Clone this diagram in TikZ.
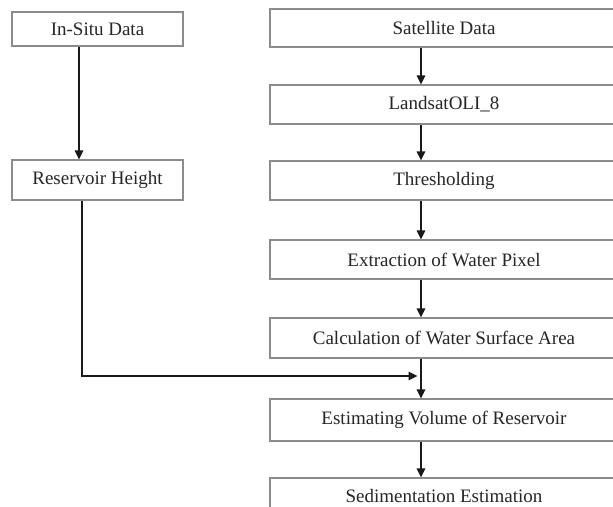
\documentclass[tikz,border=0pt]{standalone}
\usepackage{fontspec}
\setmainfont{Liberation Serif}
\usetikzlibrary{arrows.meta}
\begin{document}
\begin{tikzpicture}[x=1pt,y=-1pt,
  stepbox/.style={draw=black!45, line width=1.3pt, fill=white, inner sep=0pt,
    font=\fontsize{19}{21}\selectfont, text=black!85},
  leftbox/.style={stepbox, minimum width=171pt},
  rightbox/.style={stepbox, minimum width=348pt},
  flow/.style={line width=1.6pt, draw=black!90,
    -{Triangle[length=9pt,width=8.5pt]}}]
\clip (0,0) rectangle (613,506);
\fill[white] (0,0) rectangle (613,506);

% left column: field measurements
\node[leftbox, minimum height=34pt] (insitu) at (97.5,29) {In-Situ Data};
\node[leftbox, minimum height=40pt] (height) at (97.5,180) {Reservoir Height};

% right column: image processing chain
\node[rightbox, minimum height=38pt] (sat)     at (444,28)    {Satellite Data};
\node[rightbox, minimum height=39pt] (landsat) at (444,104.5) {LandsatOLI\_8};
\node[rightbox, minimum height=39pt] (thresh)  at (444,180.5) {Thresholding};
\node[rightbox, minimum height=39pt] (extract) at (444,259.5) {Extraction of Water Pixel};
\node[rightbox, minimum height=40pt] (area)    at (444,338)   {Calculation of Water Surface Area};
\node[rightbox, minimum height=42pt] (volume)  at (444,420)   {Estimating Volume of Reservoir};
\node[rightbox, minimum height=36pt] (sed)     at (444,496)   {Sedimentation Estimation};

% connector tracks
\coordinate (lxa) at (79,0);
\coordinate (lxb) at (82,0);
\coordinate (rx) at (421,0);
\coordinate (merge) at (421,376);

\draw[flow] (insitu.south -| lxa) -- (height.north -| lxa);
\draw[flow] (sat.south -| rx) -- (landsat.north -| rx);
\draw[flow] (landsat.south -| rx) -- (thresh.north -| rx);
\draw[flow] (thresh.south -| rx) -- (extract.north -| rx);
\draw[flow] (extract.south -| rx) -- (area.north -| rx);
\draw[flow] (area.south -| rx) -- (volume.north -| rx);
\draw[flow] (volume.south -| rx) -- (sed.north -| rx);
\draw[flow, shorten >=3.5pt] (height.south -| lxb) |- (merge);
\end{tikzpicture}
\end{document}
